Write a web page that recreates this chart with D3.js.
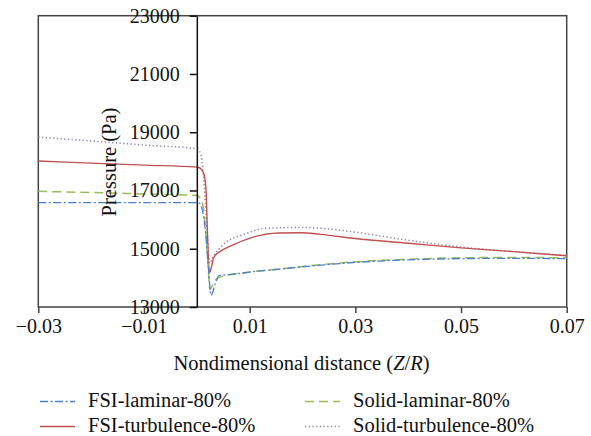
<!DOCTYPE html>
<html>
<head>
<meta charset="utf-8">
<script src="https://cdn.jsdelivr.net/npm/d3@7"></script>
</head>
<body style="margin:0;padding:0;background:#fff;">
<svg id="chart" width="591" height="436"></svg>
<script>
// ---- data ----
const xTicks = [-0.03, -0.01, 0.01, 0.03, 0.05, 0.07];
const yTicks = [13000, 15000, 17000, 19000, 21000, 23000];

const fsiLamX = [-0.03, -0.02, -0.01, 0, 0.0004, 0.001, 0.00165, 0.0022, 0.0027, 0.0035, 0.0042, 0.006, 0.008, 0.01, 0.015, 0.02, 0.025, 0.03, 0.04, 0.05, 0.06, 0.07];
const fsiLamY = [16580, 16580, 16580, 16580, 16575, 16370, 15570, 14300, 13400, 13800, 14080, 14110, 14150, 14200, 14290, 14380, 14460, 14530, 14620, 14660, 14670, 14660];

const solLamX = [-0.03, -0.02, -0.01, 0, 0.001, 0.0017, 0.0021, 0.0025, 0.0031, 0.0038, 0.006, 0.008, 0.01, 0.015, 0.02, 0.025, 0.03, 0.04, 0.05, 0.06, 0.07];
const solLamY = [16970, 16930, 16880, 16830, 16600, 15570, 14500, 13600, 13800, 13970, 14100, 14150, 14200, 14290, 14390, 14480, 14550, 14640, 14690, 14700, 14690];

const fsiTurbX = [-0.03, -0.02, -0.01, 0, 0.0005, 0.001, 0.0015, 0.0018, 0.002, 0.0024, 0.0028, 0.0031, 0.0035, 0.0048, 0.0073, 0.0105, 0.0155, 0.02, 0.025, 0.03, 0.04, 0.05, 0.06, 0.07];
const fsiTurbY = [18010, 17940, 17870, 17800, 17780, 17690, 17450, 16800, 15600, 14180, 14400, 14650, 14770, 14950, 15170, 15390, 15540, 15550, 15460, 15350, 15190, 15030, 14900, 14760];

const solTurbX = [-0.03, -0.02, -0.01, 0, 0.0005, 0.001, 0.0015, 0.002, 0.0024, 0.003, 0.0048, 0.0092, 0.013, 0.0193, 0.025, 0.03, 0.04, 0.05, 0.06, 0.07];
const solTurbY = [18830, 18700, 18560, 18430, 18350, 18000, 16900, 15500, 14500, 14700, 15110, 15510, 15700, 15730, 15680, 15570, 15290, 15060, 14900, 14770];

const seriesNames = ["FSI-laminar-80%", "Solid-laminar-80%", "FSI-turbulence-80%", "Solid-turbulence-80%"];

// ---- drawing ----
const FONT = '"Liberation Serif"';
const svg = d3.select("#chart");
const L = 38.3, R = 566.7, T = 15.7, B = 307;
const x = d3.scaleLinear().domain([-0.03, 0.07]).range([L, R]);
const y = d3.scaleLinear().domain([13000, 23000]).range([B, T]);

const styles = [
  {color:"#4a7fcc", dash:"8,2.5,2,2.5", w:1.3},
  {color:"#9bbb59", dash:"9,5", w:1.5},
  {color:"#c0504d", dash:null, w:1.4},
  {color:"#8a86aa", dash:"1.3,2.4", w:1.5}
];
const allX = [fsiLamX, solLamX, fsiTurbX, solTurbX];
const allY = [fsiLamY, solLamY, fsiTurbY, solTurbY];

const line = d3.line().x(d => x(d[0])).y(d => y(d[1])).curve(d3.curveMonotoneX);

function txt(sel, size) {
  return sel.attr("fill", "#111").attr("font-family", "Liberation Serif")
    .style("font-family", FONT).style("font-size", size + "px");
}

// frame
svg.append("rect").attr("x", L).attr("y", T).attr("width", R - L).attr("height", B - T)
  .attr("fill", "none").attr("stroke", "#444").attr("stroke-width", 1.5);

// draw order: dotted, red, green, blue
[3, 2, 1, 0].forEach(i => {
  const pts = allX[i].map((v, k) => [v, allY[i][k]]);
  svg.append("path").attr("d", line(pts)).attr("fill", "none")
    .attr("stroke", styles[i].color).attr("stroke-width", styles[i].w)
    .attr("stroke-dasharray", styles[i].dash);
});

// x axis
const xAxis = d3.axisBottom(x).tickValues(xTicks).tickSize(6).tickSizeOuter(0)
  .tickFormat(d => d3.format(".2f")(d).replace("-", "\u2212"));
const gx = svg.append("g").attr("transform", `translate(0,${B})`).call(xAxis)
  .attr("font-family", "Liberation Serif");
gx.select(".domain").remove();
gx.selectAll(".tick line").attr("stroke", "#444").attr("stroke-width", 1.5);
txt(gx.selectAll(".tick text").attr("y", 12).attr("dy", "0.71em"), 20);

// y axis at x = 0
const yAxis = d3.axisLeft(y).tickValues(yTicks).tickSize(7).tickSizeOuter(0).tickFormat(d3.format("d"));
const gy = svg.append("g").attr("transform", `translate(${x(0)},0)`).call(yAxis)
  .attr("font-family", "Liberation Serif");
gy.select(".domain").attr("stroke", "#111").attr("stroke-width", 1.5);
gy.selectAll(".tick line").attr("stroke", "#111").attr("stroke-width", 1.5);
txt(gy.selectAll(".tick text").attr("x", -17), 20);

// axis titles
txt(svg.append("text").attr("transform", "translate(116,162) rotate(-90)").attr("text-anchor", "middle"), 20.5)
  .text("Pressure (Pa)");
const xt = txt(svg.append("text").attr("x", 301.5).attr("y", 370).attr("text-anchor", "middle"), 20.5);
xt.append("tspan").text("Nondimensional distance (");
xt.append("tspan").attr("font-style", "italic").text("Z");
xt.append("tspan").text("/");
xt.append("tspan").attr("font-style", "italic").text("R");
xt.append("tspan").text(")");

// legend
const legPos = [[40, 401.5], [305, 401.5], [40, 426.5], [305, 426.5]];
seriesNames.forEach((name, i) => {
  const [lx, ly] = legPos[i];
  const g = svg.append("g");
  g.append("line").attr("x1", lx).attr("x2", lx + 35).attr("y1", ly).attr("y2", ly)
    .attr("stroke", styles[i].color).attr("stroke-width", styles[i].w)
    .attr("stroke-dasharray", styles[i].dash);
  txt(g.append("text").attr("x", lx + 48).attr("y", ly + 5.5), 20.5).text(name);
});
</script>
</body>
</html>
